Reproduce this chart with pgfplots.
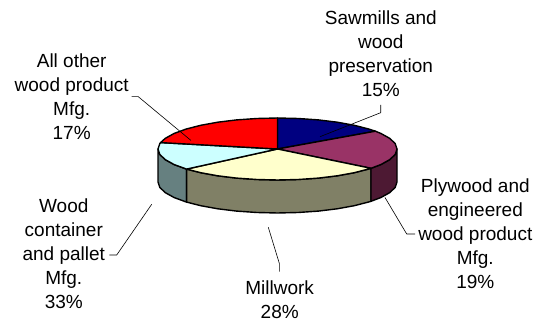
\documentclass[border=0pt]{standalone}
\usepackage{pgfplots}
\pgfplotsset{compat=1.18}
\usepackage{fontspec}
\setmainfont{Liberation Sans}
\definecolor{cnavy}{HTML}{000080}
\definecolor{cplum}{HTML}{993366}
\definecolor{ccream}{HTML}{FFFFCC}
\definecolor{cice}{HTML}{CCFFFF}
\definecolor{cred}{HTML}{FF0000}
\definecolor{splum}{HTML}{4D1933}
\definecolor{scream}{HTML}{808066}
\definecolor{sice}{HTML}{668080}
\tikzset{
  lab/.style={align=center, font=\fontsize{19}{24}\selectfont, text=black, inner sep=0pt},
  lead/.style={draw=black, line width=0.6pt, fill=none},
}
\begin{document}
\begin{tikzpicture}
\useasboundingbox (0,0) rectangle (539pt,320pt);
\begin{axis}[
  at={(0,0)}, anchor=south west,
  scale only axis, width=539pt, height=320pt,
  xmin=0, xmax=539, ymin=0, ymax=320, y dir=reverse,
  hide axis, clip=false,
  every axis plot/.append style={no markers, draw=black, line width=1.4pt, line join=round},
]
% side walls
\addplot[fill=sice] coordinates {(158,149)(159.8,154.4)(165.2,159.6)(174,164.5)(186,168.9)(186.6,169.1)
  (186.6,202.1)(186,201.9)(174,197.5)(165.2,192.6)(159.8,187.4)(158,182)} -- cycle;
\addplot[fill=scream] coordinates {(186.6,169.1)(200.7,172.7)(217.75,175.8)(236.6,178.1)(256.75,179.5)(277.5,180)(298.25,179.5)(318.4,178.1)(337.25,175.8)(354.3,172.7)(369,168.9)(371,168.3)
  (371,201.3)(369,201.9)(354.3,205.7)(337.25,208.8)(318.4,211.1)(298.25,212.5)(277.5,213)(256.75,212.5)(236.6,211.1)(217.75,208.8)(200.7,205.7)(186.6,202.1)} -- cycle;
\addplot[fill=splum] coordinates {(371,168.3)(381,164.5)(389.8,159.6)(395.2,154.4)(397,149)
  (397,182)(395.2,187.4)(389.8,192.6)(381,197.5)(371,201.3)} -- cycle;
% top slices
\addplot[fill=cnavy] coordinates {(277.5,149)(277.5,118)(298.25,118.5)(318.4,119.9)(337.25,122.2)(354.3,125.3)(369,129.1)(375.4,131.2)} -- cycle;
\addplot[fill=cplum] coordinates {(277.5,149)(375.4,131.2)(381,133.5)(389.8,138.4)(395.2,143.6)(397,149)(395.2,154.4)(389.8,159.6)(381,164.5)(371,168.3)} -- cycle;
\addplot[fill=ccream] coordinates {(277.5,149)(371,168.3)(369,168.9)(354.3,172.7)(337.25,175.8)(318.4,178.1)(298.25,179.5)(277.5,180)(256.75,179.5)(236.6,178.1)(217.75,175.8)(200.7,172.7)(186.6,169.1)} -- cycle;
\addplot[fill=cice] coordinates {(277.5,149)(186.6,169.1)(174,164.5)(165.2,159.6)(159.8,154.4)(158,149)(159.8,143.6)(160.6,142.6)} -- cycle;
\addplot[fill=cred] coordinates {(277.5,149)(160.6,142.6)(165.2,138.4)(174,133.5)(186,129.1)(200.7,125.3)(217.75,122.2)(236.6,119.9)(256.75,118.5)(277.5,118)} -- cycle;
% leaders
\addplot[lead] coordinates {(380.7,105)(380.7,112.7)(320,136.7)};
\addplot[lead] coordinates {(131.7,96.7)(138.3,96.7)(191,140.5)};
\addplot[lead] coordinates {(385,197.5)(406.7,234)(415,234)};
\addplot[lead] coordinates {(151.7,204.3)(116.7,255)(109.3,255)};
\addplot[lead] coordinates {(268.3,227.3)(279.3,263.3)(279.3,271.7)};
% labels
\node[lab] at (axis cs:380.8,53.5) {Sawmills and\\wood\\preservation\\15\%};
\node[lab] at (axis cs:71.7,97) {All other\\wood product\\Mfg.\\17\%};
\node[lab] at (axis cs:475.3,234) {Plywood and\\engineered\\wood product\\Mfg.\\19\%};
\node[lab] at (axis cs:63.8,254) {Wood\\container\\and pallet\\Mfg.\\33\%};
\node[lab] at (axis cs:279.7,299.5) {Millwork\\28\%};
\end{axis}
\end{tikzpicture}
\end{document}
